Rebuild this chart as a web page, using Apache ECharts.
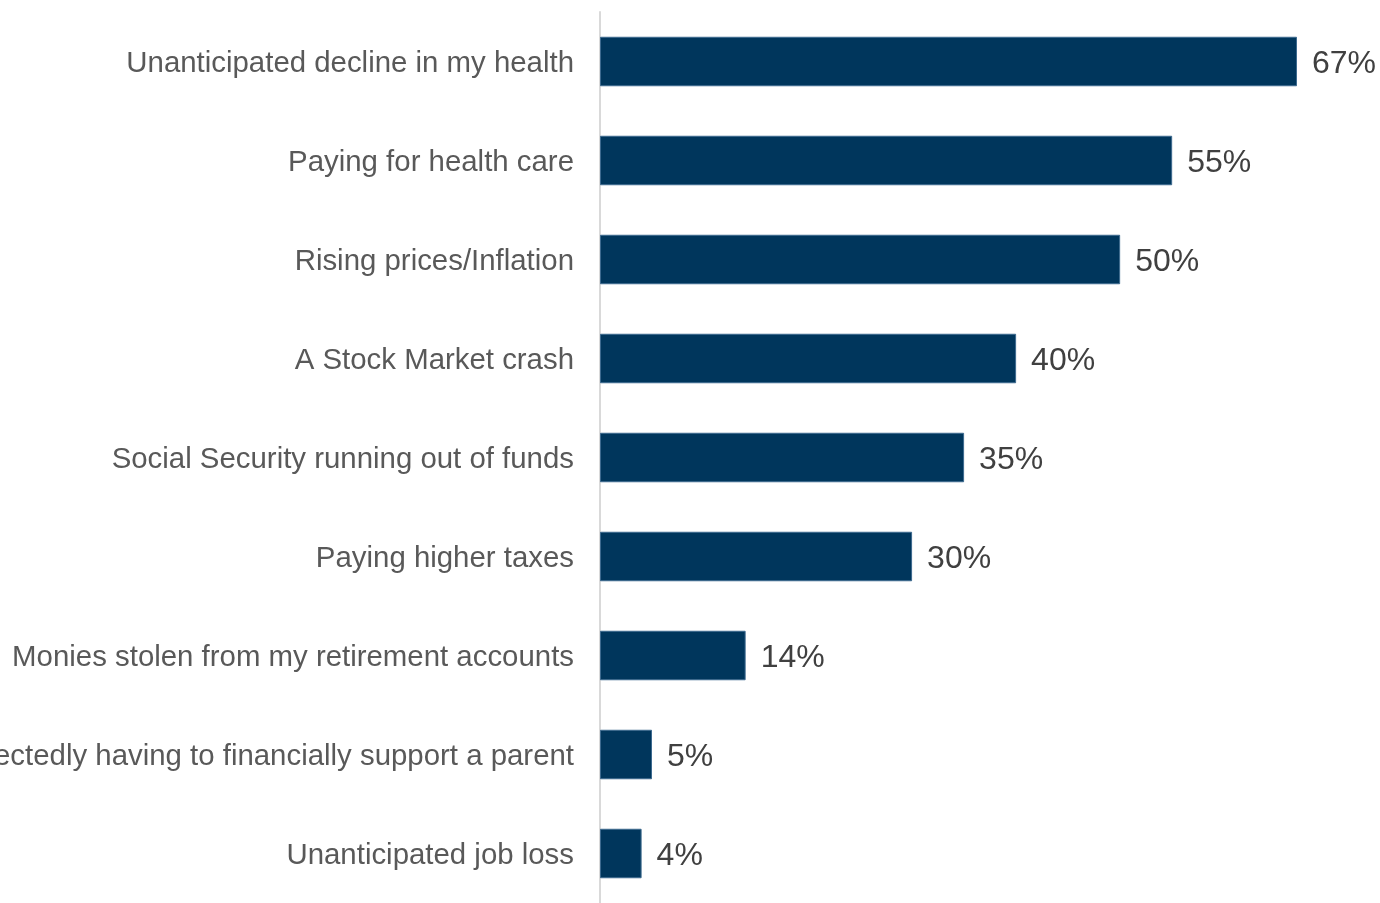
<!DOCTYPE html>
<html>
<head>
<meta charset="utf-8">
<style>
  html, body { margin: 0; padding: 0; background: #ffffff; }
  #chart { width: 1380px; height: 903px; }
</style>
<script src="https://cdn.jsdelivr.net/npm/echarts@6/dist/echarts.min.js"></script>
</head>
<body>
<div id="chart"></div>
<script>
// Retirement concerns, listed top to bottom
const categories = [
  'Unanticipated decline in my health',
  'Paying for health care',
  'Rising prices/Inflation',
  'A Stock Market crash',
  'Social Security running out of funds',
  'Paying higher taxes',
  'Monies stolen from my retirement accounts',
  'Unexpectedly having to financially support a parent',
  'Unanticipated job loss'
];
const shares = [67, 55, 50, 40, 35, 30, 14, 5, 4];

const chart = echarts.init(document.getElementById('chart'));
chart.setOption({
  animation: false,
  grid: {
    left: 600, right: 83, top: 12, bottom: 0,
    containLabel: false,
    outerBoundsMode: 'none'
  },
  xAxis: {
    type: 'value',
    min: 0,
    max: 67,
    show: false
  },
  yAxis: {
    type: 'category',
    inverse: true,
    data: categories,
    axisLine: { show: true, lineStyle: { color: '#d9d9d9', width: 2 } },
    axisTick: { show: false },
    axisLabel: {
      color: '#595959',
      fontFamily: 'Liberation Sans, Arial, sans-serif',
      fontSize: 29.4,
      margin: 26,
      formatter: '{t|{value}}',
      rich: {
        t: {
          color: '#595959',
          fontFamily: 'Liberation Sans, Arial, sans-serif',
          fontSize: 29.4,
          padding: [5, 0, 0, 0]
        }
      }
    }
  },
  series: [{
    type: 'bar',
    data: shares,
    barCategoryGap: '50%',
    itemStyle: { color: '#00365c', borderColor: '#3d6a8f', borderWidth: 1 },
    label: {
      show: true,
      position: 'right',
      distance: 15,
      offset: [0, 3],
      formatter: '{c}%',
      color: '#404040',
      fontFamily: 'Liberation Sans, Arial, sans-serif',
      fontSize: 32
    }
  }]
});
</script>
</body>
</html>
